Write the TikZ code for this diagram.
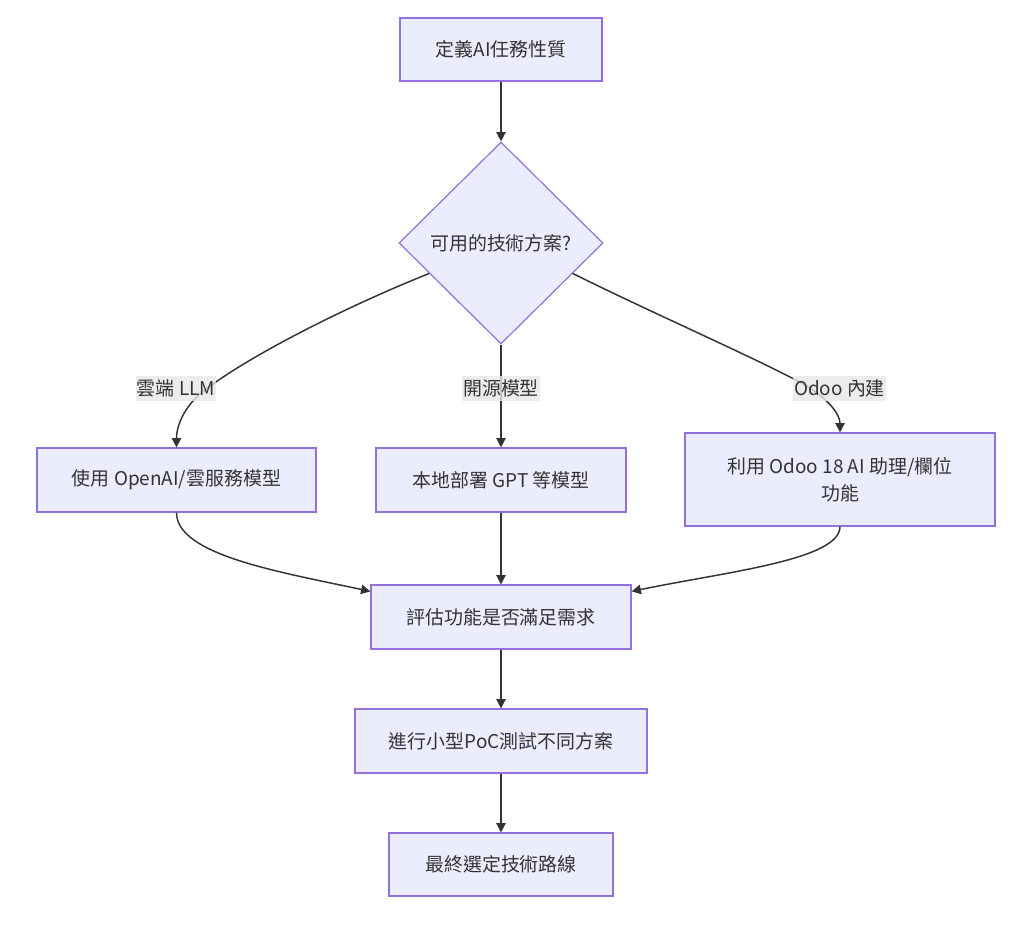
\documentclass[tikz,border=0pt]{standalone}
\usepackage{fontspec}
\setmainfont{Noto Sans CJK TC}
\usetikzlibrary{shapes.geometric,arrows.meta,calc}
\definecolor{nodefill}{HTML}{ECECFF}
\definecolor{nodeline}{HTML}{9370DB}
\definecolor{edgeline}{HTML}{333333}
\definecolor{labelbg}{HTML}{E8E8E8}
\begin{document}
\begin{tikzpicture}[x=0.75pt,y=-0.75pt,
  box/.style={draw=nodeline, fill=nodefill, line width=0.9pt, inner sep=0pt,
    text=edgeline, font=\fontsize{14.2}{20}\selectfont, align=center},
  dia/.style={box, diamond, shape aspect=1},
  flow/.style={draw=edgeline, line width=1.1pt, -{Triangle[length=7pt,width=7pt]}},
  lbl/.style={fill=labelbg, fill opacity=0.8, text opacity=1, text=edgeline,
    inner xsep=1pt, inner ysep=0pt, minimum height=18.75pt,
    font=\fontsize{14.2}{16}\selectfont}]
\useasboundingbox (0,0) rectangle (1024,936);
\fill[white] (0,0) rectangle (1024,936);

\node[box, minimum width=151.5pt, minimum height=47.25pt] (A) at (501,49.5) {定義AI任務性質};
\node[dia, minimum width=153pt, minimum height=151.5pt] (Q) at (501,243) {可用的技術方案?};
\node[box, minimum width=209.25pt, minimum height=48pt] (B1) at (176.5,480) {使用 OpenAI/雲服務模型};
\node[box, minimum width=187.5pt, minimum height=48pt] (B2) at (501,480) {本地部署 GPT 等模型};
\node[box, minimum width=232.5pt, minimum height=69.75pt] (B3) at (840,479.5) {利用 Odoo 18 AI 助理/欄位\\功能};
\node[box, minimum width=195pt, minimum height=48pt] (C) at (501,617) {評估功能是否滿足需求};
\node[box, minimum width=219pt, minimum height=48pt] (D) at (501,741) {進行小型PoC測試不同方案};
\node[box, minimum width=168pt, minimum height=47.25pt] (E) at (501,864.5) {最終選定技術路線};

\coordinate (QL) at ($(Q.west)!0.3!(Q.south)$);
\coordinate (QR) at ($(Q.east)!0.3!(Q.south)$);
\coordinate (CL) at ($(C.north west)+(0,7)$);
\coordinate (CR) at ($(C.north east)+(0,7)$);

\draw[flow] (A.south) -- (Q.north);
\draw[flow] (QL) .. controls (350,305) and (250,355) .. (205,390)
  .. controls (185,405) and (176.5,425) .. (B1.north);
\draw[flow] (Q.south) -- (B2.north);
\draw[flow] (QR) .. controls (650,312) and (760,360) .. (805,385)
  .. controls (830,400) and (840,415) .. (B3.north);
\draw[flow] (B1.south) .. controls (176.5,555) and (280,572) .. (CL);
\draw[flow] (B2.south) -- (C.north);
\draw[flow] (B3.south) .. controls (840,560) and (725,572) .. (CR);
\draw[flow] (C.south) -- (D.north);
\draw[flow] (D.south) -- (E.north);

\node[lbl] (L1) at (176,388.5) {雲端 LLM};
\node[lbl] (L2) at (501,388.5) {開源模型};
\node[lbl] (L3) at (839.5,388.5) {Odoo 內建};
\end{tikzpicture}
\end{document}
